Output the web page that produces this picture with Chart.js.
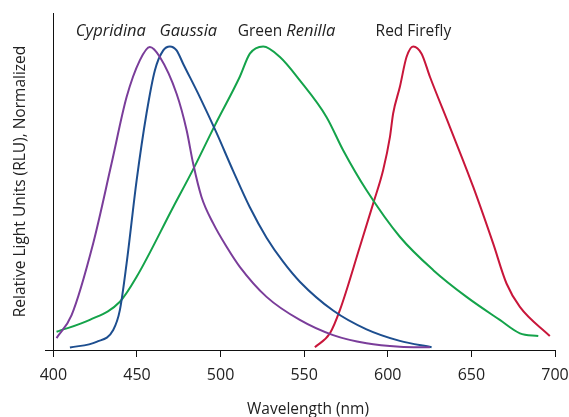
<!DOCTYPE html>
<html>
<head>
<meta charset="utf-8">
<script src="https://cdn.jsdelivr.net/npm/chart.js@4/dist/chart.umd.min.js"></script>
<style>
  html, body { margin: 0; padding: 0; background: #fff; }
  #wrap { width: 569px; height: 417px; }
</style>
</head>
<body>
<div id="wrap"><canvas id="spec" width="569" height="417"></canvas></div>
<script>
/* Emission spectra of four luciferases, normalized RLU vs wavelength. */

const cypNm  = [401.9, 410.9, 423.8, 434.8, 443.8, 451.7, 457.7, 463.7, 473.7, 479.7, 483.6, 488.6, 495.6, 503.6, 511.5, 527.5, 547.4, 567.3, 587.3, 607.2, 625.2];
const cypRlu = [0.039, 0.115, 0.351, 0.614, 0.833, 0.954, 0.998, 0.965, 0.844, 0.724, 0.614, 0.504, 0.417, 0.34, 0.274, 0.175, 0.099, 0.049, 0.022, 0.011, 0.009];

const gauNm  = [409.9, 425.8, 435.8, 439.8, 443.8, 449.8, 455.7, 460.7, 465.7, 469.7, 473.7, 477.6, 487.6, 497.6, 507.5, 517.5, 527.5, 537.5, 547.4, 567.3, 587.3, 607.2, 626.2];
const gauRlu = [0.008, 0.027, 0.066, 0.132, 0.285, 0.559, 0.779, 0.921, 0.987, 1.0, 0.987, 0.943, 0.833, 0.715, 0.59, 0.47, 0.37, 0.29, 0.225, 0.13, 0.068, 0.03, 0.009];

const renNm  = [401.9, 421.8, 439.8, 449.8, 471.7, 483.6, 496.6, 511.5, 517.5, 525.5, 535.5, 547.4, 563.4, 573.3, 587.3, 607.2, 627.2, 647.1, 667.0, 679.0, 690.0];
const renRlu = [0.06, 0.099, 0.159, 0.241, 0.471, 0.595, 0.74, 0.9, 0.976, 1.0, 0.965, 0.888, 0.767, 0.658, 0.526, 0.373, 0.263, 0.175, 0.099, 0.055, 0.046];

const fflNm  = [556.4, 565.4, 571.4, 583.3, 591.3, 597.2, 601.3, 603.2, 607.2, 611.2, 615.2, 620.2, 625.2, 637.1, 651.1, 663.0, 671.0, 679.0, 696.9];
const fflRlu = [0.009, 0.055, 0.132, 0.34, 0.483, 0.592, 0.702, 0.779, 0.866, 0.965, 1.0, 0.976, 0.9, 0.735, 0.537, 0.351, 0.219, 0.142, 0.046];

const xTicks = [400, 450, 500, 550, 600, 650, 700];

// curve labels: [plain part, italic part], anchored at a wavelength
const labelParts = [['', 'Cypridina'], ['', 'Gaussia'], ['Green ', 'Renilla'], ['Red Firefly', '']];
const labelNm    = [434.4, 480.7, 539.4, 615.3];
const labelRlu   = 1.05;

const FONT = '"Open Sans", "Noto Sans", sans-serif';
const INK = '#222';

const pts = (xs, ys) => xs.map((x, i) => ({ x, y: ys[i] }));

function series(label, xs, ys, color) {
  return {
    label, data: pts(xs, ys), showLine: true,
    borderColor: color, backgroundColor: color,
    borderWidth: 2, pointRadius: 0, fill: false,
    tension: 0.4, cubicInterpolationMode: 'monotone'
  };
}

// y axis line at 400 nm, curve names above the peaks, x title
const extras = {
  id: 'extras',
  afterDatasetsDraw(chart) {
    const { ctx, scales: { x, y }, chartArea } = chart;
    ctx.save();
    const x0 = Math.round(x.getPixelForValue(400)) + 0.5;
    ctx.strokeStyle = '#111';
    ctx.lineWidth = 1;
    ctx.beginPath();
    ctx.moveTo(x0, chartArea.top);
    ctx.lineTo(x0, chartArea.bottom);
    ctx.stroke();

    ctx.fillStyle = INK;
    ctx.textBaseline = 'middle';
    ctx.textAlign = 'left';
    const plain = '15.5px ' + FONT, ital = 'italic 16.5px ' + FONT;
    const yy = y.getPixelForValue(labelRlu);
    labelParts.forEach(([a, b], i) => {
      ctx.font = plain; const wa = ctx.measureText(a).width;
      ctx.font = ital;  const wb = ctx.measureText(b).width;
      const xx = x.getPixelForValue(labelNm[i]) - (wa + wb) / 2;
      ctx.font = plain; ctx.fillText(a, xx, yy);
      ctx.font = ital;  ctx.fillText(b, xx + wa, yy);
    });

    ctx.font = '15.5px ' + FONT;
    ctx.textAlign = 'center';
    ctx.fillText('Wavelength (nm)', (chartArea.left + chartArea.right) / 2 + 8, chart.height - 7);
    ctx.restore();
  }
};

new Chart(document.getElementById('spec'), {
  type: 'scatter',
  data: { datasets: [
    series('Cypridina', cypNm, cypRlu, '#7a3d9a'),
    series('Gaussia', gauNm, gauRlu, '#1d4e8f'),
    series('Green Renilla', renNm, renRlu, '#14a34a'),
    series('Red Firefly', fflNm, fflRlu, '#c8163a')
  ] },
  options: {
    responsive: false, animation: false,
    layout: { padding: { left: 9, right: 14, top: 13, bottom: 0 } },
    plugins: { legend: { display: false }, tooltip: { enabled: false } },
    scales: {
      x: {
        type: 'linear', min: 395, max: 700,
        afterBuildTicks: s => { s.ticks = xTicks.map(v => ({ value: v })); },
        border: { display: true, color: '#111', width: 1 },
        grid: { display: true, drawOnChartArea: false, drawTicks: true, tickLength: 7, color: '#111' },
        ticks: { color: INK, font: { family: FONT, size: 16 }, padding: 9, maxRotation: 0 },
        title: { display: false },
        afterFit: s => { s.height = 67; s.paddingLeft = 0; s.paddingRight = 0; }
      },
      y: {
        min: 0, max: 1.11,
        border: { display: false },
        grid: { display: false, drawTicks: false },
        ticks: { display: false },
        title: { display: true, text: 'Relative Light Units (RLU), Normalized', color: INK,
                 font: { family: FONT, size: 15.5 }, padding: { top: 2, bottom: 0 } },
        afterFit: s => { s.width = 36; }
      }
    }
  },
  plugins: [extras]
});
</script>
</body>
</html>
